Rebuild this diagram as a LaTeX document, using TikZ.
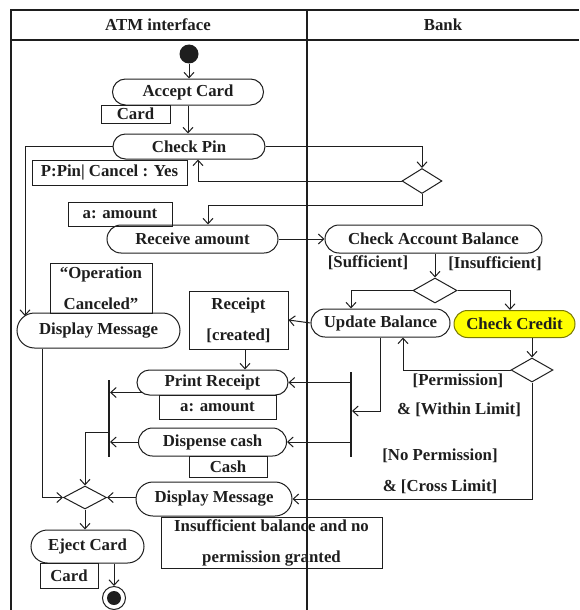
\documentclass[tikz,border=0pt]{standalone}
\usepackage{fontspec}
\setmainfont{Liberation Serif}
\usetikzlibrary{arrows.meta,shapes.geometric}
\definecolor{ink}{HTML}{1E1E1E}
\definecolor{credfill}{HTML}{FFFF00}
\definecolor{credline}{HTML}{7A7A00}
\begin{document}
\begin{tikzpicture}[x=1pt,y=-1pt,
  every node/.style={font=\fontsize{16.8}{31}\selectfont\bfseries, text=ink},
  act/.style 2 args={draw=ink, line width=1pt, rectangle, inner sep=0pt,
    minimum width=#1pt, minimum height=#2pt, rounded corners=#2*0.5pt},
  pinbox/.style 2 args={draw=ink, line width=1pt, rectangle, inner sep=0pt,
    minimum width=#1pt, minimum height=#2pt, align=center},
  dec/.style 2 args={draw=ink, line width=1pt, diamond, inner sep=0pt,
    minimum width=#1pt, minimum height=#2pt},
  guard/.style={inner sep=0pt},
  bar/.style={fill=ink, rectangle, inner sep=0pt, minimum width=1.6pt, minimum height=#1pt},
  arr/.style={draw=ink, line width=1pt, -{Straight Barb[length=5.5pt,width=10pt]}},
  frame/.style={draw=ink, line width=1.2pt}]
\useasboundingbox (0,0) rectangle (579,610);

% swimlane frame
\draw[frame] (11,610) -- (11,10) -- (579,10);
\draw[frame] (11,40) -- (579,40);
\draw[frame] (307,10) -- (307,610);
\node (laneA) at (158,25) {ATM interface};
\node (laneB) at (443,25) {Bank};

% ATM interface actions
\node[circle, fill=ink, minimum size=19pt, inner sep=0pt] (start) at (189,54) {};
\node[act={151}{26}] (accept) at (188,92) {Accept Card};
\node[pinbox={69}{18}] (cardA) at (135.5,114) {Card};
\node[act={152}{25}] (checkpin) at (189,146.5) {Check Pin};
\node[pinbox={155}{25}] (pin) at (109.5,172.5) {P:Pin| Cancel : Yes};
\node[pinbox={104}{24}] (amt) at (120,214) {a: amount};
\node[act={171}{28}] (recv) at (192.5,239) {Receive amount};
\node[pinbox={102}{50}] (opmsg) at (101,288) {“Operation\\Canceled”};
\node[act={163}{35}] (dmsg1) at (98.5,330.5) {Display Message};
\node[pinbox={99}{58}] (receipt) at (238.5,320) {Receipt\\{[created]}};
\node[act={151}{25}] (prt) at (212.5,382.5) {Print Receipt};
\node[pinbox={117}{24}] (amt2) at (217.5,407) {a: amount};
\node[act={148}{28}] (disp) at (212.5,442) {Dispense cash};
\node[pinbox={78}{21}] (cash) at (228,466.5) {Cash};
\node[act={156}{34}] (dmsg2) at (214,499) {Display Message};
\node[pinbox={221}{51}] (insuf) at (271.5,542.5) {Insufficient balance and no\\permission granted};
\node[dec={43}{23}] (d4) at (85,497.5) {};
\node[act={113}{33}] (eject) at (87.5,546.5) {Eject Card};
\node[pinbox={58}{25}] (cardE) at (69,575.5) {Card};
\node[circle, draw=ink, line width=1pt, minimum size=23pt, inner sep=0pt] (final) at (114,598) {};
\node[circle, fill=ink, minimum size=14pt, inner sep=0pt] (finalin) at (final.center) {};
\node[bar=77] (barL) at (109,418.5) {};
\node[bar=85] (barR) at (351,414.5) {};

% Bank actions
\node[dec={40}{25}] (d1) at (422,181) {};
\node[act={217}{28}] (cab) at (433.5,239) {Check Account Balance};
\node[guard] (gsuff) at (368,263) {[Sufficient]};
\node[guard] (ginsuff) at (495,264) {[Insufficient]};
\node[dec={44}{25}] (d2) at (435,290.5) {};
\node[act={139}{28}] (upd) at (380.5,323) {Update Balance};
\node[act={121}{27}, fill=credfill, draw=credline] (credit) at (514.5,324) {Check Credit};
\node[dec={42}{24}] (d3) at (532,370) {};
\node[guard] (gperm) at (458,381) {[Permission]};
\node[guard] (gwithin) at (459,410) {\& [Within Limit]};
\node[guard] (gnoperm) at (440,456) {[No Permission]};
\node[guard] (gcross) at (440,487) {\& [Cross Limit]};

% helper points
\coordinate (cancelTip) at (25,316);
\coordinate (prtOut) at ([xshift=5pt,yshift=-10pt]prt.west);

% flows
\draw[arr] (start.south) -- (start.south |- accept.north);
\draw[arr] (accept.south) -- (accept.south |- checkpin.north);
\draw[arr] (checkpin.west) -| (cancelTip);
\draw[arr] (checkpin.east) -| (d1.north);
\draw[arr] (d1.west) -| ([xshift=9pt]checkpin.south);
\draw[arr] (d1.south) -- ++(0,11) -| ([xshift=15.5pt]recv.north);
\draw[arr] (recv.east) -- (cab.west);
\draw[arr] (cab.south -| d2.north) -- (d2.north);
\draw[arr] (d2.west) -| ([xshift=-29.5pt]upd.north);
\draw[arr] (d2.east) -| ([xshift=-4.5pt]credit.north);
\draw[arr] (upd.west) -- (receipt.east);
\draw[arr] ([xshift=6.5pt]receipt.south) -- ([xshift=6.5pt]receipt.south |- prt.north);
\draw[arr] (d3.north |- credit.south) -- (d3.north);
\draw[arr] (d3.west) -| ([xshift=22.5pt]upd.south);
\draw[arr] (d3.south) |- (dmsg2.east);
\draw[arr] (upd.south) |- ([yshift=3.5pt]barR.east);
\draw[arr] (barR.west |- prt.east) -- (prt.east);
\draw[arr] (barR.west |- disp.east) -- (disp.east);
\draw[arr] (prtOut) -- (prtOut -| barL.east);
\draw[arr] (disp.west) -- (disp.west -| barL.east);
\draw[arr] ([yshift=-13.5pt]barL.west) -| (d4.north);
\draw[arr] ([xshift=-56.5pt]dmsg1.south) |- (d4.west);
\draw[arr] (d4.east -| dmsg2.west) -- (d4.east);
\draw[arr] (d4.south) -- (d4.south |- eject.north);
\draw[arr] (final.north |- eject.south) -- (final.north);
\end{tikzpicture}
\end{document}
